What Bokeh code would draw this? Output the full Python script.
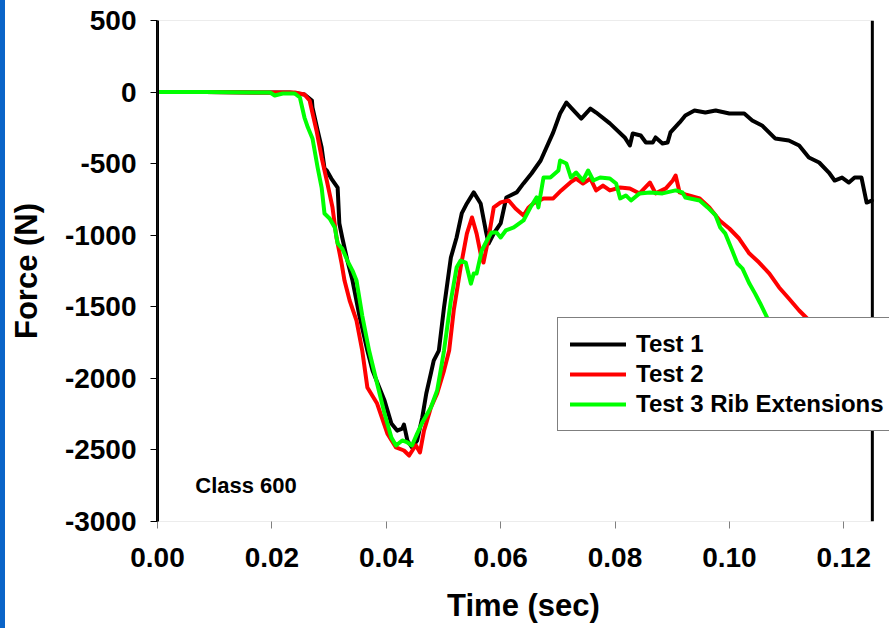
from bokeh.plotting import figure
from bokeh.models import (Range1d, FixedTicker, Legend, LegendItem, Span, BoxAnnotation,
                          Label, NumeralTickFormatter, Div)
from bokeh.layouts import row
from bokeh.embed import file_html
from bokeh.resources import INLINE

# ---- data (time in seconds, force in N) ----
t1 = [0.0, 0.0083, 0.0170, 0.0231, 0.0257, 0.0270, 0.0271, 0.0280, 0.0287, 0.0292,
      0.0296, 0.0304, 0.0315, 0.0318, 0.0323, 0.0332, 0.0341, 0.0353, 0.0367, 0.0376,
      0.0397, 0.0409, 0.0419, 0.0428, 0.0431, 0.0437, 0.0445, 0.0454, 0.0463, 0.0470,
      0.0478, 0.0483, 0.0492, 0.0501, 0.0513, 0.0523, 0.0532, 0.0541, 0.0553, 0.0565,
      0.0574, 0.0579, 0.0588, 0.0600, 0.0610, 0.0628, 0.0640, 0.0654, 0.0670, 0.0692,
      0.0704, 0.0715, 0.0723, 0.0741, 0.0757, 0.0767, 0.0791, 0.0817, 0.0826, 0.0831,
      0.0845, 0.0854, 0.0866, 0.0871, 0.0883, 0.0892, 0.0897, 0.0913, 0.0923, 0.0939,
      0.0958, 0.0976, 0.1000, 0.1026, 0.1040, 0.1057, 0.1080, 0.1104, 0.1122, 0.1139,
      0.1157, 0.1174, 0.1184, 0.1197, 0.1209, 0.1219, 0.1231, 0.1240, 0.1249]
f1 = [0, 0, -3, -3, -17, -59, -108, -268, -387, -534,
      -548, -604, -667, -918, -1016, -1177, -1317, -1561, -1806, -1946,
      -2155, -2316, -2365, -2351, -2323, -2434, -2483, -2434, -2273, -2106,
      -1966, -1876, -1806, -1505, -1156, -1016, -848, -778, -701, -778,
      -967, -1058, -988, -918, -736, -701, -638, -569, -478, -282,
      -150, -73, -108, -185, -115, -143, -219, -317, -373, -289,
      -303, -352, -352, -317, -359, -352, -282, -212, -163, -129,
      -143, -129, -150, -150, -198, -233, -324, -338, -373, -457,
      -492, -562, -618, -597, -632, -597, -597, -772, -758]

t2 = [0.0, 0.0083, 0.0170, 0.0240, 0.0257, 0.0266, 0.0278, 0.0287, 0.0296, 0.0306,
      0.0313, 0.0322, 0.0327, 0.0336, 0.0348, 0.0358, 0.0367, 0.0384, 0.0402, 0.0417,
      0.0431, 0.0440, 0.0449, 0.0452, 0.0459, 0.0466, 0.0478, 0.0489, 0.0501, 0.0510,
      0.0518, 0.0530, 0.0541, 0.0550, 0.0558, 0.0565, 0.0570, 0.0579, 0.0588, 0.0600,
      0.0614, 0.0626, 0.0640, 0.0649, 0.0657, 0.0675, 0.0692, 0.0706, 0.0722, 0.0732,
      0.0744, 0.0757, 0.0767, 0.0779, 0.0791, 0.0809, 0.0826, 0.0843, 0.0861, 0.0871,
      0.0889, 0.0901, 0.0906, 0.0913, 0.0923, 0.0948, 0.0965, 0.0983, 0.1000, 0.1017,
      0.1035, 0.1052, 0.1070, 0.1087, 0.1104, 0.1122, 0.1136, 0.1153, 0.1179]
f2 = [0, 0, -3, -3, -17, -59, -268, -457, -618, -806,
      -1016, -1198, -1317, -1456, -1596, -1806, -2064, -2176, -2386, -2483,
      -2504, -2539, -2483, -2469, -2518, -2365, -2204, -2106, -1946, -1806,
      -1526, -1226, -989, -876, -989, -1128, -1191, -1016, -806, -771,
      -757, -813, -862, -806, -778, -743, -743, -687, -631, -604,
      -639, -604, -687, -653, -687, -667, -673, -708, -632, -708,
      -673, -618, -583, -701, -715, -743, -806, -897, -953, -1023,
      -1128, -1191, -1268, -1365, -1442, -1526, -1582, -1666, -1771]

t3 = [0.0, 0.0083, 0.0170, 0.0197, 0.0205, 0.0219, 0.0240, 0.0249, 0.0257, 0.0263,
      0.0271, 0.0280, 0.0287, 0.0292, 0.0301, 0.0310, 0.0315, 0.0323, 0.0332, 0.0341,
      0.0348, 0.0358, 0.0370, 0.0384, 0.0397, 0.0409, 0.0417, 0.0428, 0.0437, 0.0445,
      0.0454, 0.0463, 0.0478, 0.0489, 0.0496, 0.0501, 0.0513, 0.0523, 0.0530, 0.0539,
      0.0548, 0.0553, 0.0558, 0.0567, 0.0576, 0.0584, 0.0593, 0.0600, 0.0609, 0.0623,
      0.0640, 0.0652, 0.0663, 0.0666, 0.0675, 0.0687, 0.0701, 0.0704, 0.0715, 0.0723,
      0.0732, 0.0744, 0.0753, 0.0762, 0.0774, 0.0791, 0.0802, 0.0809, 0.0819, 0.0828,
      0.0843, 0.0861, 0.0883, 0.0906, 0.0918, 0.0923, 0.0948, 0.0962, 0.0976, 0.0984,
      0.0993, 0.1005, 0.1014, 0.1023, 0.1035, 0.1045, 0.1054, 0.1066, 0.1083]
f3 = [0, 0, -3, -3, -24, -10, -10, -38, -178, -248,
      -324, -527, -667, -848, -883, -946, -1058, -1093, -1177, -1247,
      -1317, -1561, -1806, -2036, -2246, -2414, -2469, -2434, -2448, -2469,
      -2386, -2309, -2204, -2085, -1925, -1806, -1456, -1226, -1177, -1191,
      -1338, -1268, -1268, -1107, -1037, -981, -981, -1016, -967, -946,
      -897, -806, -736, -806, -597, -597, -548, -478, -499, -597,
      -562, -618, -548, -618, -597, -604, -639, -743, -722, -757,
      -708, -701, -708, -687, -701, -736, -757, -806, -862, -946,
      -989, -1107, -1198, -1233, -1338, -1408, -1477, -1575, -1771]

series_names = ["Test 1", "Test 2", "Test 3 Rib Extensions"]
series_colors = ["#000000", "#FF0000", "#00FF00"]
y_ticks = [500, 0, -500, -1000, -1500, -2000, -2500, -3000]
x_ticks = [0.0, 0.02, 0.04, 0.06, 0.08, 0.10, 0.12]
x_min, x_max, y_min, y_max = 0.0, 0.125, -3000, 500
annotation_text = "Class 600"

FONT = "Liberation Sans"

# frame runs to the right edge of the canvas so the legend can overflow like the reference
p = figure(width=884, height=628, x_range=Range1d(x_min, 0.128), y_range=Range1d(y_min, y_max),
           output_backend="svg", toolbar_location=None,
           min_border_left=148, min_border_right=0, min_border_top=20, min_border_bottom=107,
           background_fill_color="white", border_fill_color="white")
p.grid.visible = False
p.outline_line_color = None

p.yaxis.ticker = FixedTicker(ticks=y_ticks)
p.xaxis.ticker = FixedTicker(ticks=x_ticks)
p.xaxis.formatter = NumeralTickFormatter(format="0.00")
p.yaxis.formatter = NumeralTickFormatter(format="0")
for ax in (p.xaxis[0], p.yaxis[0]):
    ax.major_label_text_font = FONT
    ax.major_label_text_font_style = "bold"
    ax.major_label_text_font_size = "28px"
    ax.major_label_text_color = "black"
    ax.axis_label_text_font = FONT
    ax.axis_label_text_font_style = "bold"
    ax.axis_label_text_font_size = "31px"
    ax.axis_label_text_color = "black"
    ax.minor_tick_line_color = None
    ax.major_tick_in = 0
    ax.major_tick_out = 7

p.yaxis.axis_label = "Force (N)"
p.yaxis.axis_line_width = 3
p.yaxis.axis_line_color = "black"
p.yaxis.major_tick_line_color = "black"
p.yaxis.major_label_standoff = 14
p.yaxis.axis_label_standoff = 18

p.xaxis.axis_label = "Time (sec)"
p.xaxis.axis_line_color = None
p.xaxis.major_tick_line_color = "#808080"
p.xaxis.major_label_standoff = 19
p.xaxis.axis_label_standoff = 18

# plot-area frame: thin grey top/bottom, thick black right edge
p.add_layout(BoxAnnotation(left=x_min, right=x_max, bottom=y_min, top=y_max,
                           fill_alpha=0, line_color="#808080", line_width=1))
p.add_layout(Span(location=x_max, dimension="height", line_color="black", line_width=3))

renderers = []
for tt, ff, c in zip([t1, t2, t3], [f1, f2, f3], series_colors):
    r = p.line(tt, ff, line_color=c, line_width=4, line_join="round", line_cap="round")
    renderers.append(r)

legend = Legend(items=[LegendItem(label=n, renderers=[r]) for n, r in zip(series_names, renderers)],
                location=(400, 90), orientation="vertical",
                label_text_font=FONT, label_text_font_style="bold", label_text_font_size="24px",
                label_text_color="black",
                glyph_width=56, glyph_height=28, label_height=28, label_width=270,
                spacing=2, padding=12, label_standoff=10, margin=0,
                border_line_color="black", border_line_width=1,
                background_fill_color="white", background_fill_alpha=1.0)
p.add_layout(legend, "center")

p.add_layout(Label(x=0.0066, y=-2750, text=annotation_text, text_font=FONT,
                   text_font_style="bold", text_font_size="22px", text_color="black",
                   text_baseline="middle"))

strip = Div(width=5, height=628, styles={"background-color": "#0A64C8", "margin": "0", "padding": "0"})
layout = row(strip, p, spacing=0)

open("out.html", "w").write(file_html(layout, INLINE))
